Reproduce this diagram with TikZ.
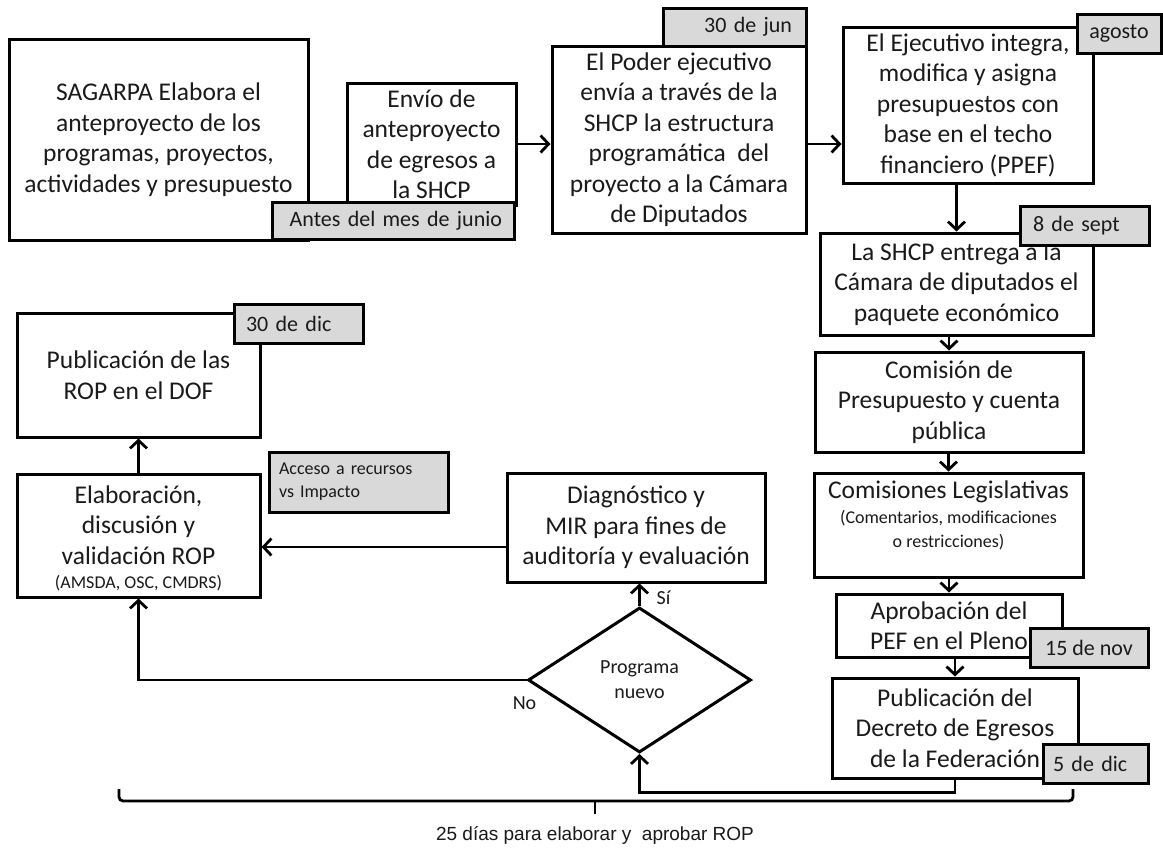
\documentclass[tikz,border=0pt]{standalone}
\usepackage{fontspec}
\setmainfont{Carlito}
\newfontfamily\arialfont{Liberation Sans}
\usetikzlibrary{shapes.geometric,arrows.meta}
\definecolor{tagfill}{HTML}{D9D9D9}
\definecolor{ink}{HTML}{1A1A1A}
\begin{document}
\begin{tikzpicture}[x=1pt,y=-1pt,
  box/.style={draw=black, line width=3pt, fill=white, inner sep=0pt, align=center, text=ink,
              font=\fontsize{25.5}{30.5}\selectfont},
  tag/.style={draw=black, line width=3pt, fill=tagfill, inner sep=0pt, text=ink,
              font=\fontsize{22}{26}\selectfont},
  txt/.style={inner sep=0pt, align=center, text=ink, font=\fontsize{25.5}{30.5}\selectfont},
  small/.style={inner sep=0pt, align=center, text=ink, font=\fontsize{18}{24}\selectfont},
  arr/.style={line width=2.8pt, -{Straight Barb[length=8pt,width=17pt]}},
  conn/.style={line width=2.8pt}
]
\fill[white] (0,0) rectangle (1163,847);
\useasboundingbox (0,0) rectangle (1163,847);

% ---- main boxes ----
\node[box, minimum width=299pt, minimum height=201pt] (A) at (158.5,139.5)
  {SAGARPA Elabora el\\anteproyecto de los\\programas, proyectos,\\actividades y presupuesto};
\node[box, minimum width=169pt, minimum height=122pt] (B) at (431.5,144)
  {Envío de\\anteproyecto\\de egresos a\\la SHCP};
\node[box, minimum width=254pt, minimum height=187pt] (C) at (679,139.5)
  {El Poder ejecutivo\\envía a través de la\\SHCP la estructura\\programática\ \ del\\proyecto a la Cámara\\de Diputados};
\node[box, minimum width=250pt, minimum height=156pt] (D) at (968,105)
  {El Ejecutivo integra,\\modifica y asigna\\presupuestos con\\base en el techo\\financiero (PPEF)};
\node[box, minimum width=273pt, minimum height=102pt] (E) at (956.5,284)
  {La SHCP entrega a la\\Cámara de diputados el\\paquete económico};
\node[box, minimum width=268pt, minimum height=100pt] (F) at (949,402)
  {Comisión de\\Presupuesto y cuenta\\pública};
\node[box, minimum width=269pt, minimum height=104pt] (G) at (948.5,525) {};
\node[txt] (gt1) at (948.5,492) {Comisiones Legislativas};
\node[small] (gt2) at (948.5,530) {(Comentarios, modificaciones\\o restricciones)};
\node[box, minimum width=226pt, minimum height=63pt] (H) at (949,625.5)
  {Aprobación del\\PEF en el Pleno};
\node[box, minimum width=246pt, minimum height=100pt] (I) at (955,728)
  {Publicación del\\Decreto de Egresos\\de la Federación};

\node[box, minimum width=243pt, minimum height=124pt] (P) at (138.5,375)
  {Publicación de las\\ROP en el DOF};
\node[box, minimum width=243pt, minimum height=123pt] (L) at (138.5,535.5) {};
\node[txt] (lt1) at (138.5,525) {Elaboración,\\discusión y\\validación ROP};
\node[small] (lt2) at (138.5,583) {(AMSDA, OSC, CMDRS)};
\node[box, minimum width=258pt, minimum height=109pt] (M) at (636,527.5)
  {Diagnóstico y\\MIR para fines de\\auditoría y evaluación};
\node[diamond, draw=black, line width=3pt, fill=white, inner sep=0pt, align=center, text=ink,
      minimum width=223pt, minimum height=145pt, font=\fontsize{20}{25}\selectfont] (Q) at (639.5,680)
  {Programa\\nuevo};

% ---- connectors ----
\draw[arr] (B.east) -- (B.east -| C.west);
\coordinate (c1) at (C.east |- 0,144);
\draw[arr] (c1) -- (c1 -| D.west);
\draw[arr] (D.south -| E.north) -- (E.north);
\draw[arr] (F.north |- E.south) -- (F.north);
\draw[arr] (G.north |- F.south) -- (G.north);
\draw[arr] (H.north |- G.south) -- (H.north);
\draw[arr] (I.north |- H.south) -- (I.north);
\draw[arr] (I.south) -- ++(0,13) -| (Q.south);
\draw[arr] (Q.north) -- (Q.north |- M.south);
\draw[arr] (Q.west) -| (L.south);
\coordinate (m1) at (M.west |- 0,547);
\draw[arr] (m1) -- (m1 -| L.east);
\draw[arr] (L.north) -- (P.south);

\node[inner sep=0pt, text=ink, font=\fontsize{20}{24}\selectfont] (si) at (663.5,598) {Sí};
\node[inner sep=0pt, text=ink, font=\fontsize{20}{24}\selectfont] (no) at (524.5,703) {No};

% ---- date tags ----
\node[tag, minimum width=242pt, minimum height=37pt, text width=218pt, align=right] (tA) at (393,220.5)
  {Antes del mes de junio};
\node[tag, minimum width=143pt, minimum height=38pt, text width=115pt, align=right] (tC) at (734.5,27)
  {30 de jun};
\node[tag, minimum width=84pt, minimum height=39pt, align=center] (tD) at (1119,33.5) {agosto};
\node[tag, minimum width=129pt, minimum height=39pt, text width=103pt, align=left] (tE) at (1084.5,225.5)
  {8 de sept};
\node[tag, minimum width=118pt, minimum height=39pt, align=center] (tH) at (1089,647.5) {15 de nov};
\node[tag, minimum width=105pt, minimum height=39pt, text width=85pt, align=left] (tI) at (1095.5,763.5)
  {5 de dic};
\node[tag, minimum width=129pt, minimum height=39pt, text width=105pt, align=left] (tP) at (298.5,323.5)
  {30 de dic};
\node[tag, minimum width=179pt, minimum height=60pt, text width=159pt, align=left,
      font=\fontsize{18}{23}\selectfont] (tL) at (358.5,482)
  {Acceso a recursos\\vs Impacto};

% ---- brace ----
\coordinate (bl) at (119,789);
\coordinate (br) at (1073,789);
\coordinate (bm) at (595,801);
\draw[conn, rounded corners=4pt] (bl) |- (bm) -| (br);
\draw[conn] (bm) -- ++(0,13);
\node[inner sep=0pt, text=ink, font=\arialfont\fontsize{19}{23}\selectfont] (blabel) at (595,835)
  {25 días para elaborar y\ \ aprobar ROP};
\end{tikzpicture}
\end{document}
